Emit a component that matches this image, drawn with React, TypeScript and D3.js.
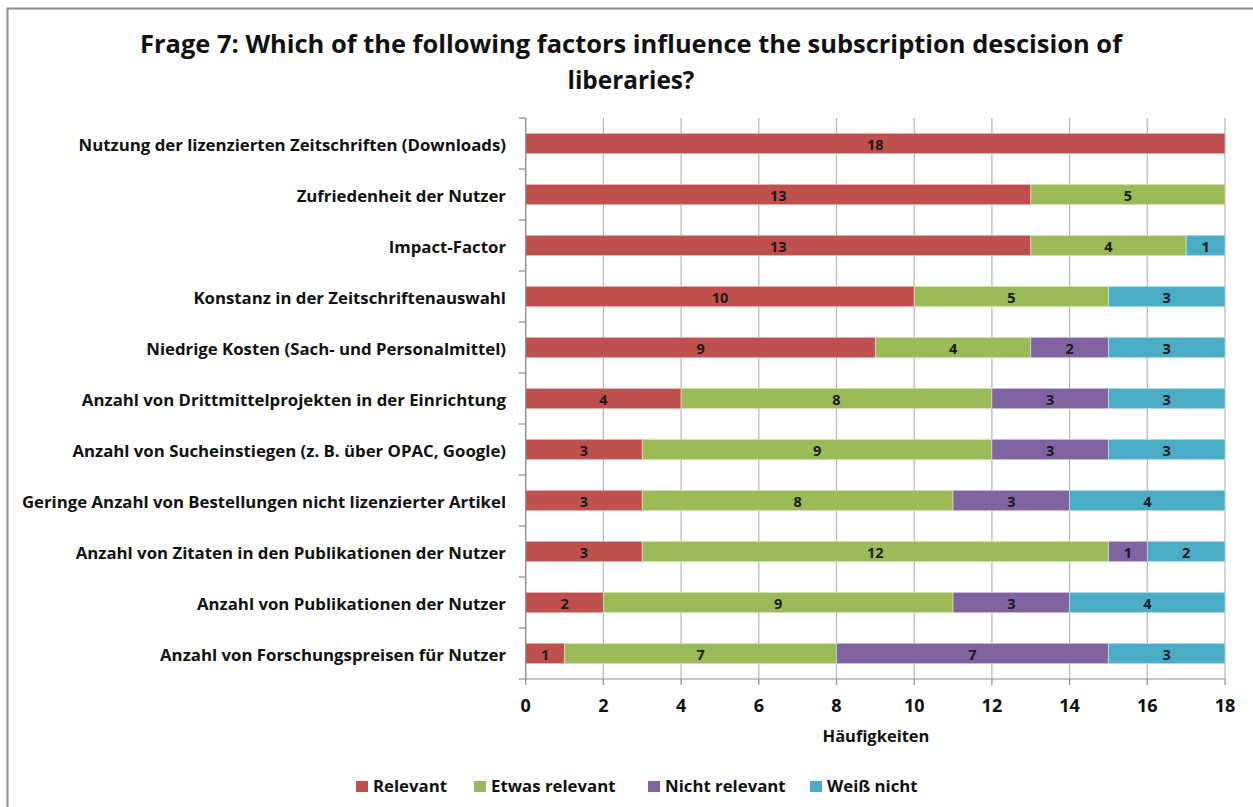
import React from "react";
import * as d3 from "d3";

// Survey factors, listed top to bottom
const categories: string[] = [
  "Nutzung der lizenzierten Zeitschriften (Downloads)",
  "Zufriedenheit der Nutzer",
  "Impact-Factor",
  "Konstanz in der Zeitschriftenauswahl",
  "Niedrige Kosten (Sach- und Personalmittel)",
  "Anzahl von Drittmittelprojekten in der Einrichtung",
  "Anzahl von Sucheinstiegen (z. B. über OPAC, Google)",
  "Geringe Anzahl von Bestellungen nicht lizenzierter Artikel",
  "Anzahl von Zitaten in den Publikationen der Nutzer",
  "Anzahl von Publikationen der Nutzer",
  "Anzahl von Forschungspreisen für Nutzer",
];

const seriesNames: string[] = ["Relevant", "Etwas relevant", "Nicht relevant", "Weiß nicht"];
const seriesColors: string[] = ["#C0504D", "#9BBB59", "#8064A2", "#4BACC6"];

const relevant: number[] = [18, 13, 13, 10, 9, 4, 3, 3, 3, 2, 1];
const etwasRelevant: number[] = [0, 5, 4, 5, 4, 8, 9, 8, 12, 9, 7];
const nichtRelevant: number[] = [0, 0, 0, 0, 2, 3, 3, 3, 1, 3, 7];
const weissNicht: number[] = [0, 0, 1, 3, 3, 3, 3, 4, 2, 4, 3];

const xTicks: number[] = [0, 2, 4, 6, 8, 10, 12, 14, 16, 18];

const titleLines: string[] = [
  "Frage 7: Which of the following factors influence the subscription descision of",
  "liberaries?",
];
const xAxisTitle = "Häufigkeiten";

const W = 1253;
const H = 807;
const FONT = "'Open Sans', Lato, sans-serif";
const INK = "#111";
const AXIS = "#8c8c8c";

export default function App() {
  const x = d3.scaleLinear().domain([0, 18]).range([525.7, 1225]);
  const y = d3.scaleBand<string>().domain(categories).range([118, 679]).padding(0);
  const barH = y.bandwidth() * 0.4;

  const rows = categories.map((c, i) => ({
    cat: c,
    vals: [relevant[i], etwasRelevant[i], nichtRelevant[i], weissNicht[i]],
  }));
  const stack = d3
    .stack<{ cat: string; vals: number[] }, number>()
    .keys([0, 1, 2, 3])
    .value((d, k) => d.vals[k]);
  const stacked = stack(rows);

  const [x0, x1] = x.range();
  const [yTop, yBot] = y.range();

  // legend entries: swatch left edges
  const legendX = [356, 474, 648, 810];

  return (
    <div style={{ position: "fixed", left: 0, top: 0 }}>
      <svg width={W} height={H} style={{ display: "block", background: "#fff" }}>
        {/* chart frame */}
        <rect x={7.5} y={8.5} width={W + 20} height={H + 20} fill="#fff" stroke={AXIS} strokeWidth={2} />

        {/* title */}
        <text x={631} y={53} textAnchor="middle" fontFamily={FONT} fontWeight={700} fontSize={25} fill={INK}
          textLength={982} lengthAdjust="spacingAndGlyphs">
          {titleLines[0]}
        </text>
        <text x={631} y={89} textAnchor="middle" fontFamily={FONT} fontWeight={700} fontSize={25} fill={INK}
          textLength={127} lengthAdjust="spacingAndGlyphs">
          {titleLines[1]}
        </text>

        {/* vertical gridlines */}
        {xTicks.map((t) => (
          <line key={"g" + t} x1={x(t)} x2={x(t)} y1={yTop} y2={yBot} stroke="#b5b5b5" strokeWidth={1.2} />
        ))}

        {/* stacked bars with centred value labels */}
        {stacked.map((s, k) =>
          s.map((d, i) => {
            const v = d[1] - d[0];
            if (v <= 0) return null;
            const yc = (y(d.data.cat) as number) + y.bandwidth() / 2;
            return (
              <g key={`b${k}-${i}`}>
                <rect x={x(d[0])} y={yc - barH / 2} width={x(d[1]) - x(d[0])} height={barH}
                  fill={seriesColors[k]} stroke="#ffffff" strokeOpacity={0.5} strokeWidth={0.8} />
                <text x={(x(d[0]) + x(d[1])) / 2} y={yc} dy="0.42em" textAnchor="middle" fontFamily={FONT}
                  fontWeight={700} fontSize={14.5} fill="#1a1a1a">
                  {v}
                </text>
              </g>
            );
          })
        )}

        {/* category axis */}
        <line x1={x0} x2={x0} y1={yTop} y2={yBot} stroke={AXIS} strokeWidth={1.2} />
        {categories.map((c, i) => (
          <line key={"ct" + i} x1={x0 - 7} x2={x0} y1={y(c) as number} y2={y(c) as number} stroke={AXIS} strokeWidth={1.2} />
        ))}
        <line x1={x0 - 7} x2={x0} y1={yBot} y2={yBot} stroke={AXIS} strokeWidth={1.2} />
        {categories.map((c) => (
          <text key={"cl" + c} x={506} y={(y(c) as number) + y.bandwidth() / 2} dy="0.44em" textAnchor="end"
            fontFamily={FONT} fontWeight={700} fontSize={16.8} fill={INK}>
            {c}
          </text>
        ))}

        {/* value axis */}
        <line x1={x0} x2={x1} y1={yBot} y2={yBot} stroke={AXIS} strokeWidth={1.2} />
        {xTicks.map((t) => (
          <g key={"xt" + t}>
            <line x1={x(t)} x2={x(t)} y1={yBot} y2={yBot + 6} stroke={AXIS} strokeWidth={1.2} />
            <text x={x(t)} y={712} textAnchor="middle" fontFamily={FONT} fontWeight={700}
              fontSize={18} fill={INK}>
              {t}
            </text>
          </g>
        ))}
        <text x={876} y={742} textAnchor="middle" fontFamily={FONT} fontWeight={700} fontSize={16.5} fill={INK}>
          {xAxisTitle}
        </text>

        {/* legend */}
        {seriesNames.map((n, k) => (
          <g key={"lg" + n}>
            <rect x={legendX[k]} y={781} width={12} height={11} fill={seriesColors[k]} />
            <text x={legendX[k] + 17} y={792} fontFamily={FONT} fontWeight={700} fontSize={16.8} fill={INK}>
              {n}
            </text>
          </g>
        ))}
      </svg>
    </div>
  );
}
